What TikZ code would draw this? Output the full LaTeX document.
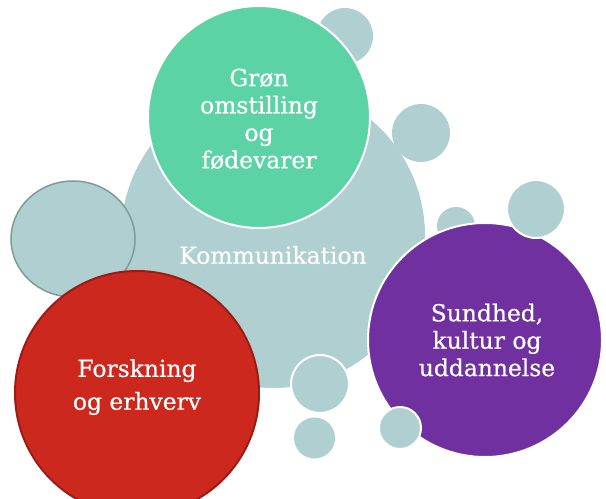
\documentclass[tikz,border=0pt]{standalone}
\usepackage{fontspec}
\setmainfont[FakeBold=0.6]{DejaVu Serif}
\definecolor{teal}{RGB}{175,207,209}
\definecolor{tealedge}{RGB}{126,154,154}
\definecolor{mint}{RGB}{92,211,165}
\definecolor{violet}{RGB}{112,48,160}
\definecolor{brick}{RGB}{205,40,30}
\definecolor{brickedge}{RGB}{156,28,20}
\tikzset{
  bubble/.style={fill=teal},
  wbubble/.style={fill=teal, draw=white, line width=2bp},
  lbl/.style={text=white, align=center, font=\fontsize{23.5}{27.5}\selectfont},
}
\begin{document}
\begin{tikzpicture}[x=1bp,y=-1bp]
\useasboundingbox (0,0) rectangle (606,499);
\clip (0,0) rectangle (606,499);
% central bubble
\fill[bubble] (273,236) circle[radius=152];
\node[lbl] (komm) at (273,255) {Kommunikation};
% left ellipse
\filldraw[fill=teal, draw=tealedge, line width=1.5bp] (73,239) ellipse[x radius=62, y radius=58];
% small bubbles behind big ones
\fill[bubble] (345,36) circle[radius=28];
\fill[bubble] (421,133) circle[radius=29];
\fill[bubble] (456,226) circle[radius=19];
% green
\filldraw[fill=mint, draw=white, line width=2bp] (259,117) circle[radius=111];
\node[lbl] (gron) at (259,119) {Grøn\\omstilling\\og\\fødevarer};
% purple
\filldraw[fill=violet, draw=white, line width=2bp] (485,340) circle[radius=117];
\node[lbl] (sund) at (487,340) {Sundhed,\\kultur og\\uddannelse};
% small bubbles in front
\filldraw[wbubble] (536,209) circle[radius=29];
\filldraw[wbubble] (400,428) circle[radius=21];
\filldraw[wbubble] (320,384) circle[radius=29];
\fill[bubble] (314.5,438) circle[radius=20.5];
% red
\filldraw[fill=brick, draw=brickedge, line width=2bp] (137,393) circle[radius=122];
\node[lbl, font=\fontsize{23.5}{33}\selectfont] (forsk) at (137,387) {Forskning\\og erhverv};
\end{tikzpicture}
\end{document}
